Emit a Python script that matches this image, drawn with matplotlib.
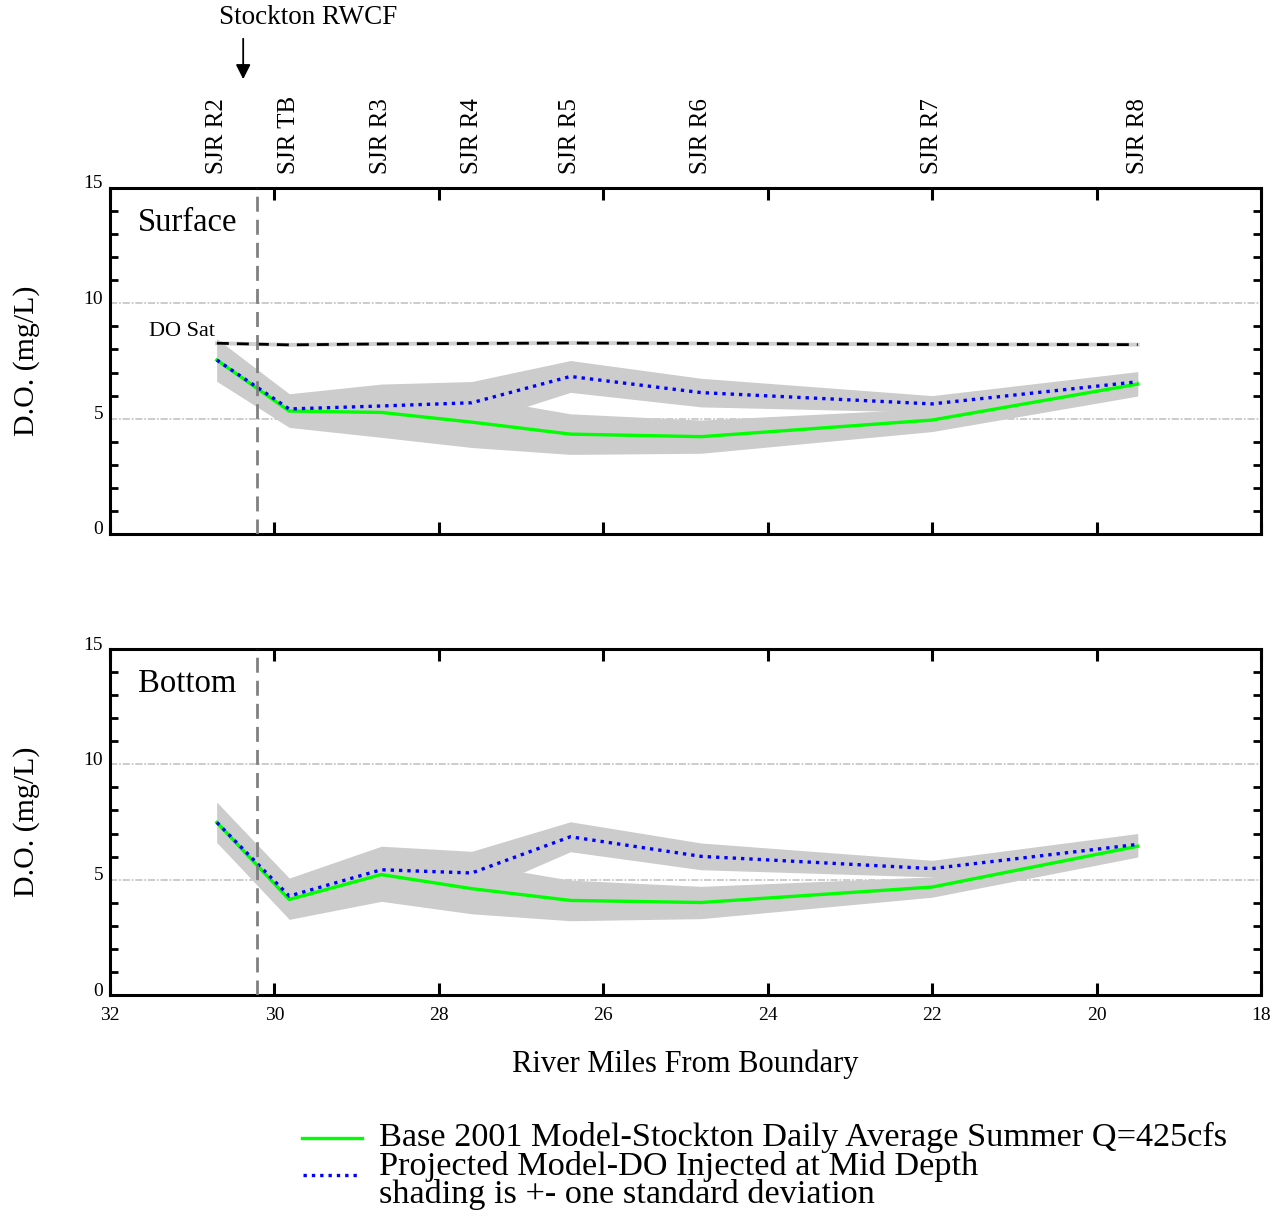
import matplotlib
matplotlib.use("Agg")
import matplotlib.pyplot as plt
import numpy as np
from matplotlib.lines import Line2D
from matplotlib.transforms import ScaledTranslation, blended_transform_factory

plt.rcParams['font.family'] = ['Liberation Serif', 'DejaVu Serif']

# stations along the river (river miles from boundary)
station_names = ["SJR R2", "SJR TB", "SJR R3", "SJR R4", "SJR R5", "SJR R6", "SJR R7", "SJR R8"]
station_miles = [30.70, 29.82, 28.70, 27.60, 26.40, 24.81, 22.00, 19.50]

# surface D.O. (mg/L)
surf_base = [7.54, 5.33, 5.27, 4.85, 4.33, 4.22, 4.94, 6.50]
surf_base_sd = [0.92, 0.71, 1.08, 1.10, 0.88, 0.72, 0.50, 0.52]
surf_proj = [7.54, 5.42, 5.55, 5.69, 6.83, 6.13, 5.64, 6.60]
surf_proj_sd = [0.92, 0.66, 0.95, 0.92, 0.69, 0.62, 0.36, 0.44]
surf_sat = [8.27, 8.20, 8.24, 8.26, 8.28, 8.26, 8.22, 8.21]

# bottom D.O. (mg/L)
bot_base = [7.48, 4.14, 5.22, 4.61, 4.10, 4.01, 4.68, 6.45]
bot_base_sd = [0.87, 0.86, 1.16, 1.09, 0.88, 0.70, 0.44, 0.47]
bot_proj = [7.48, 4.29, 5.43, 5.29, 6.86, 6.01, 5.48, 6.53]
bot_proj_sd = [0.87, 0.78, 1.02, 0.94, 0.65, 0.58, 0.36, 0.47]

rwcf_mile = 30.21      # dashed marker line
rwcf_arrow_mile = 30.38
x_ticks = [32, 30, 28, 26, 24, 22, 20, 18]
y_ticks = [0, 5, 10, 15]

W, H = 1283, 1216
fig = plt.figure(figsize=(W / 100, H / 100), dpi=100)

def px_box(left, top, right, bottom):
    return [left / W, 1 - bottom / H, (right - left) / W, (bottom - top) / H]

ax1 = fig.add_axes(px_box(110, 188, 1261, 534))
ax2 = fig.add_axes(px_box(110, 649, 1261, 995))

shade = '#cccccc'
x = np.array(station_miles)

def panel(ax, base, base_sd, proj, proj_sd, name, show_xlabels):
    base, base_sd = np.array(base), np.array(base_sd)
    proj, proj_sd = np.array(proj), np.array(proj_sd)
    ax.set_xlim(32, 18)
    ax.set_ylim(0, 15)
    for g in (5, 10):
        ax.axhline(g, color='#c8c8c8', lw=1.3, ls=(0, (4, 1, 1, 1)), zorder=0)
    ax.fill_between(x, base - base_sd, base + base_sd, color=shade, lw=0, zorder=1)
    ax.fill_between(x, proj - proj_sd, proj + proj_sd, color=shade, lw=0, zorder=1)
    ax.plot(x, base, color='#00ff00', lw=2.4, zorder=3)
    ax.plot(x, proj, color='#0000ff', lw=2.4, ls=(0, (1, 1.5)), zorder=4)
    ax.axvline(rwcf_mile, color='#808080', lw=2.0, ls=(0, (5.4, 2.9)), zorder=5)

    ax.set_xticks(x_ticks)
    ax.set_yticks(y_ticks)
    ax.set_yticks([v for v in range(1, 15) if v % 5], minor=True)
    ax.tick_params(axis='x', which='major', direction='in', length=8.6, width=2.2,
                   top=True, labelsize=14, pad=9, labelbottom=show_xlabels)
    ax.tick_params(axis='y', which='major', length=0, labelsize=14, pad=5)
    ax.tick_params(axis='y', which='minor', direction='in', length=5.8, width=2.0,
                   right=True)
    for lab in ax.get_yticklabels():
        lab.set_transform(lab.get_transform() + ScaledTranslation(0, 6 / 100, fig.dpi_scale_trans))
    for s in ax.spines.values():
        s.set_linewidth(2.2)
    ax.text(0.024, 0.9, name, transform=ax.transAxes, fontsize=23.5, va='center', ha='left')
    ax.set_ylabel('D.O. (mg/L)', fontsize=21.5)

panel(ax1, surf_base, surf_base_sd, surf_proj, surf_proj_sd, 'Surface', False)
panel(ax2, bot_base, bot_base_sd, bot_proj, bot_proj_sd, 'Bottom', True)
for ax in (ax1, ax2):
    ax.yaxis.set_label_coords(-0.061, 0.5)

# DO saturation line in the surface panel
ax1.plot(x, surf_sat, color='#d0d0d0', lw=2.8, zorder=2)
ax1.plot(x, surf_sat, color='black', lw=2.0, ls=(0, (4.3, 2.9)), zorder=2.5)
ax1.text(x[0] + 0.02, surf_sat[0] + 0.1, 'DO Sat', fontsize=16, ha='right', va='bottom')

# station names above the top panel
tr = blended_transform_factory(ax1.transData, ax1.transAxes)
for name, m in zip(station_names, station_miles):
    ax1.text(m, 1.04, name, transform=tr, rotation=90, ha='center', va='bottom', fontsize=18)

ax1.annotate('', xy=(rwcf_arrow_mile, 1 - 82 / H), xytext=(rwcf_arrow_mile, 1 - 36 / H),
             xycoords=('data', 'figure fraction'), textcoords=('data', 'figure fraction'),
             arrowprops=dict(arrowstyle='-|>', color='black', lw=1.3, mutation_scale=22),
             annotation_clip=False)
fig.text(308 / W, 1 - 18 / H, 'Stockton RWCF', fontsize=19.5, ha='center', va='center')

ax2.set_xlabel('River Miles From Boundary', fontsize=22, labelpad=18)

# legend drawn by hand under the chart
fig.add_artist(Line2D([302 / W, 362 / W], [1 - 1138 / H] * 2, color='#00ff00', lw=2.4,
                      transform=fig.transFigure))
fig.add_artist(Line2D([303 / W, 358 / W], [1 - 1175 / H] * 2, color='#0000ff', lw=2.4,
                      ls=(0, (1, 1.5)), transform=fig.transFigure))
legend_lines = ['Base 2001 Model-Stockton Daily Average Summer Q=425cfs',
                'Projected Model-DO Injected at Mid Depth',
                'shading is +- one standard deviation']
for i, t in enumerate(legend_lines):
    fig.text(379 / W, 1 - (1137 + 29 * i) / H, t, fontsize=24.7, ha='left', va='center')

fig.savefig('out.png', dpi=100)
